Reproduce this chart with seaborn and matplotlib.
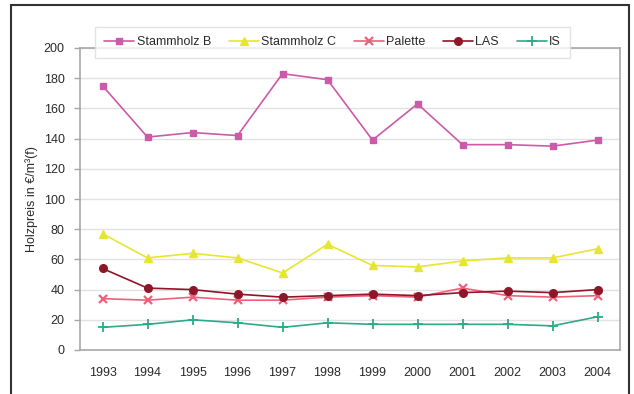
import matplotlib
matplotlib.use("Agg")
import matplotlib.pyplot as plt
import seaborn as sns
import pandas as pd
from matplotlib.patches import Rectangle
from matplotlib.lines import Line2D

years = ["1993", "1994", "1995", "1996", "1997", "1998",
         "1999", "2000", "2001", "2002", "2003", "2004"]
stammholz_b = [175, 141, 144, 142, 183, 179, 139, 163, 136, 136, 135, 139]
stammholz_c = [77, 61, 64, 61, 51, 70, 56, 55, 59, 61, 61, 67]
palette_vals = [34, 33, 35, 33, 33, 35, 36, 35, 41, 36, 35, 36]
las = [54, 41, 40, 37, 35, 36, 37, 36, 38, 39, 38, 40]
is_vals = [15, 17, 20, 18, 15, 18, 17, 17, 17, 17, 16, 22]

series_names = ["Stammholz B", "Stammholz C", "Palette", "LAS", "IS"]
series_values = [stammholz_b, stammholz_c, palette_vals, las, is_vals]
colors = ["#CC5AA8", "#E6E632", "#F0607A", "#8E1628", "#2EAA8A"]
markers = ["s", "^", "x", "o", "+"]
marker_sizes = [5, 6, 5.5, 5.5, 7]
marker_widths = [1, 1, 1.6, 1, 1.3]

rows = []
for name, vals in zip(series_names, series_values):
    for i, (y, v) in enumerate(zip(years, vals)):
        rows.append({"idx": i, "Jahr": y, "Preis": v, "Sortiment": name})
df = pd.DataFrame(rows)

sns.set_theme(style="white")
plt.rcParams["font.family"] = ["Liberation Sans", "DejaVu Sans"]

fig = plt.figure(figsize=(6.34, 3.94), dpi=100)
ax = fig.add_axes([80 / 634, 44 / 394, 540 / 634, 302 / 394])

for name, col, mk, ms, mw in zip(series_names, colors, markers,
                                 marker_sizes, marker_widths):
    sub = df[df["Sortiment"] == name]
    sns.lineplot(data=sub, x="idx", y="Preis", ax=ax, color=col, marker=mk,
                 markersize=ms, markeredgecolor=col, markeredgewidth=mw,
                 linewidth=1.2, legend=False)

ax.set_xlim(-0.5, len(years) - 0.5)
ax.set_ylim(0, 200)
ax.set_yticks(range(0, 201, 20))
ax.set_xticks(range(len(years)))
ax.set_xticklabels(years)
ax.yaxis.grid(True, color="#E2E2E2", linewidth=1.0)
ax.set_axisbelow(True)
for sp in ax.spines.values():
    sp.set_color("#A8A8A8")
    sp.set_linewidth(1.2)
ax.tick_params(axis="y", length=4, width=1, color="#A8A8A8", pad=7,
               labelsize=9, labelcolor="#2A2A2A", left=True)
ax.tick_params(axis="x", length=0, pad=12, labelsize=9, labelcolor="#2A2A2A")
ax.set_xlabel("")
ax.set_ylabel("Holzpreis in €/m³(f)", fontsize=9, color="#2A2A2A", labelpad=4)

handles = [Line2D([0], [0], color=c, marker=m, markersize=s, markeredgecolor=c,
                  markeredgewidth=w, linewidth=1.2)
           for c, m, s, w in zip(colors, markers, marker_sizes, marker_widths)]
leg = fig.legend(handles, series_names, ncol=5, loc="upper left",
                 bbox_to_anchor=(95 / 634, 1 - 27 / 394), fontsize=9,
                 frameon=True, fancybox=False, handlelength=2.4,
                 columnspacing=1.4, handletextpad=0.2, borderpad=0.75,
                 borderaxespad=0)
leg.get_frame().set_edgecolor("#DDDDDD")
leg.get_frame().set_linewidth(1.0)
leg.get_frame().set_facecolor("white")
for t in leg.get_texts():
    t.set_color("#2A2A2A")

fig.patches.append(Rectangle((11 / 634, -0.02), 618 / 634, 1.02 - 5 / 394,
                             transform=fig.transFigure, fill=False,
                             edgecolor="#333333", linewidth=1.5))

fig.savefig("out.png", dpi=100)
